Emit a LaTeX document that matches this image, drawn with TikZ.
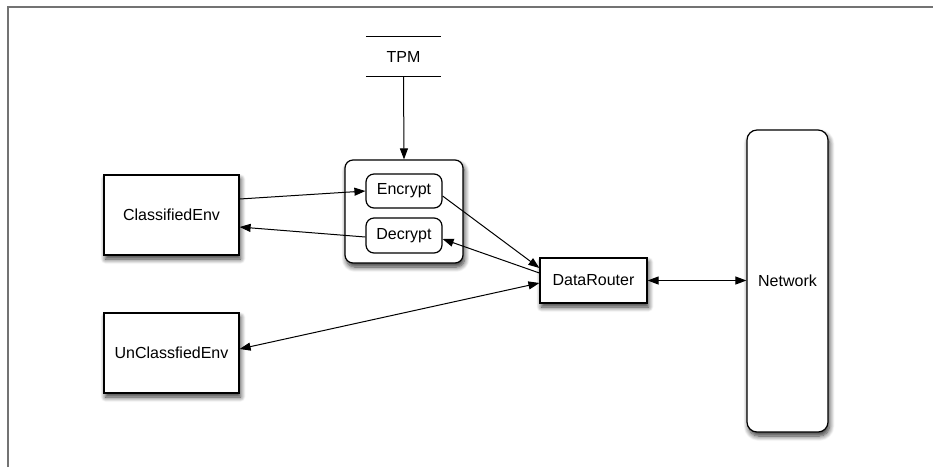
\documentclass[tikz,border=0pt]{standalone}
\usepackage{fontspec}
\setmainfont{Liberation Sans}
\usetikzlibrary{arrows.meta,shadows.blur}
\begin{document}
\begin{tikzpicture}[x=1pt,y=-1pt,
  font=\fontsize{16}{19}\selectfont,
  shd/.style={blur shadow={shadow xshift=1.5pt,shadow yshift=-4pt,shadow blur radius=5pt,shadow blur steps=8,shadow opacity=80}},
  plain/.style={draw,line width=1.2pt,fill=white,inner sep=0pt},
  box/.style={plain,shd},
  rbox/.style={box,rounded corners=8pt},
  inbox/.style={plain,rounded corners=8pt},
  arr/.style={line width=1pt,-{Triangle[length=11pt,width=8pt]}},
  darr/.style={line width=1pt,{Triangle[length=11pt,width=8pt]}-{Triangle[length=11pt,width=8pt]}}]
\useasboundingbox (0,0) rectangle (933,467);
\draw[gray!90!black,line width=1.5pt] (8,467) -- (8,7) -- (933,7);
% TPM
\node (tpm) [minimum width=75pt,minimum height=39pt,inner sep=0pt] at (403.5,56.5) {TPM};
\draw[line width=1.2pt] (tpm.north west) -- (tpm.north east);
\draw[line width=1.2pt] (tpm.south west) -- (tpm.south east);
% container
\node (cont) [rbox,minimum width=118pt,minimum height=103pt] at (404,211.5) {};
\node (enc) [inbox,minimum width=76pt,minimum height=34pt] at (404,191) {Encrypt};
\node (dec) [inbox,minimum width=76pt,minimum height=35pt] at (404,235.5) {Decrypt};
\node (cls) [box,minimum width=135pt,minimum height=80pt] at (171.5,215) {ClassifiedEnv};
\node (ucls) [box,minimum width=135pt,minimum height=80pt] at (171.5,353) {UnClassfiedEnv};
\node (dr) [box,minimum width=107pt,minimum height=45pt] at (593.5,280.5) {DataRouter};
\node (net) [rbox,rounded corners=10pt,minimum width=81pt,minimum height=302pt] at (787.5,281) {Network};
% connectors
\draw[arr] (tpm.south) -- (cont.north);
\draw[arr] (cls.east |- 0,199) -- (enc.west |- 0,191);
\draw[arr] (dec.west |- 0,237) -- (cls.east |- 0,227);
\draw[arr] (enc.east |- 0,196) -- (dr.west |- 0,268);
\draw[arr] (dr.west |- 0,273) -- (dec.east |- 0,239);
\draw[darr] (ucls.east |- 0,349) -- (dr.west |- 0,283);
\draw[darr] (dr.east) -- (net.west |- dr.east);
\end{tikzpicture}
\end{document}
